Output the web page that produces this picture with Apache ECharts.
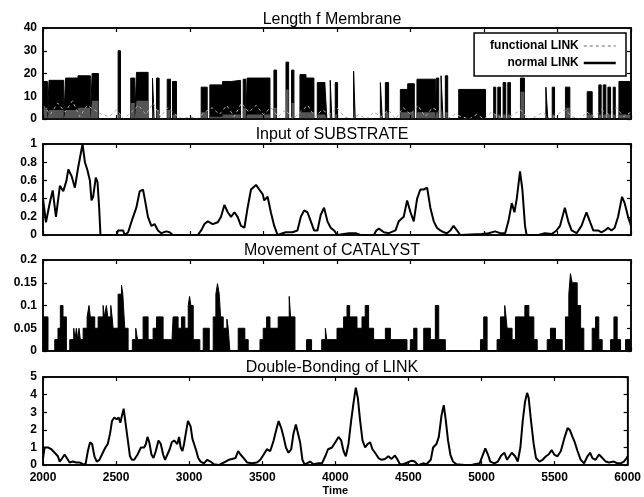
<!DOCTYPE html>
<html><head><meta charset="utf-8">
<script src="https://cdn.jsdelivr.net/npm/echarts@6/dist/echarts.min.js"></script>
<style>html,body{margin:0;padding:0;background:#fff}#c{width:644px;height:497px}</style>
</head><body><div id="c"></div>
<script>
// ---------------- data ----------------
const panelTitles = ['Length f Membrane', 'Input of SUBSTRATE', 'Movement of CATALYST', 'Double-Bonding of LINK'];
const yMaxes = [40, 1, 0.2, 5];
const yIntervals = [10, 0.2, 0.05, 1];
const timeMin = 2000, timeMax = 6000, timeInterval = 500;

// membrane: block start times, block top (normal LINK), block bottom
const memTimes = [2000,2030,2041,2141,2154,2238,2322,2334,2377,2511,2527,2597,2624,2636,2715,2745,2756,2772,2790,2845,2867,2881,2908,3076,3117,3135,3221,3283,3344,3362,3380,3389,3544,3571,3589,3653,3671,3691,3707,3748,3789,3843,3866,3918,3931,3954,3965,3988,4004,4113,4124,4295,4308,4329,4351,4431,4481,4526,4544,4669,4676,4692,4708,4721,4737,4753,4828,5010,5066,5080,5094,5112,5130,5148,5162,5180,5248,5275,5421,5434,5464,5480,5554,5584,5702,5736,5781,5797,5811,5829,5843,5861,5879,5893,5918,6000];
const memHigh = [16.5,0,17,0,18,19,0,20,0,30,0,18,0,20.5,0,18,0,18,0,17.5,0,16.5,0,14,0,15,16.5,17,0,17.5,0,18,0,21.5,0,25,0,21.5,0,19.5,18,0,16,15,0,17,0,16,0,21,0,16,0,16,0,13,15.5,0,17.5,0,18,0,19,0,19,0,13,0,14,0,14,0,16,0,16,0,18,0,14,0,14,0,14,0,12,0,15,0,15,0,14,0,14,0,16.5,16.5];
const memLow = [5,0,4,0,4,5,0,8,0,2,0,7,0,8,0,5,0,4,0,4,0,2,0,3,0,1,2,2,0,5,0,2,0,5,0,13,0,7,0,3,3,0,2,2,0,3,0,2,0,6,0,3,0,3,0,3,3,0,3,0,3,0,5,0,3,0,0,0,2,0,2,0,2,0,2,0,12,0,2,0,2,0,5,0,2,0,2,0,2,0,2,0,2,0,2,2];
// functional LINK, sampled every 50 time units from 2000
const funcValues = [6,2,7,3,8,1,6,4,2, 1,4,0,3,6,2,7,1,5,2,0, 1,0,3,5,2,6,1,7,3,6,2, 5,1,4,0,3,6,1,4,2,5, 1,0,2,0,3,1,4,0,5,2, 6,1,5,3,0,2,1,0,2,0, 3,1,0,2,4,0,1,3,0,2, 4,1,0,3,1,4,2,5,1,3];

const substrate = [[2000,0.4],[2020,0.14],[2047,0.36],[2066,0.49],[2088,0.2],[2115,0.54],[2138,0.48],[2160,0.6],[2172,0.72],[2194,0.65],[2217,0.52],[2240,0.75],[2269,1.0],[2285,0.8],[2301,0.72],[2319,0.6],[2330,0.38],[2341,0.42],[2359,0.63],[2371,0.58],[2382,0.3],[2391,0],[2500,0],[2511,0.05],[2545,0.05],[2556,0],[2579,0.03],[2613,0.2],[2635,0.3],[2658,0.48],[2680,0.5],[2692,0.4],[2714,0.2],[2737,0.1],[2759,0.12],[2782,0.05],[2805,0.02],[2839,0.04],[2861,0.03],[2884,0],[3053,0],[3076,0.05],[3098,0.12],[3121,0.15],[3155,0.12],[3189,0.14],[3211,0.2],[3234,0.33],[3257,0.25],[3279,0.2],[3302,0.25],[3324,0.2],[3347,0.1],[3370,0.08],[3392,0.3],[3415,0.5],[3449,0.55],[3471,0.5],[3494,0.45],[3505,0.38],[3528,0.42],[3550,0.25],[3573,0.1],[3596,0],[3630,0.02],[3652,0.03],[3697,0.03],[3731,0.05],[3754,0.2],[3776,0.27],[3799,0.25],[3822,0.15],[3844,0.05],[3867,0.05],[3889,0.22],[3912,0.3],[3935,0.15],[3957,0.08],[3980,0.05],[4002,0],[4081,0.02],[4127,0.02],[4160,0],[4251,0],[4267,0.05],[4285,0.07],[4319,0.03],[4353,0.02],[4398,0.05],[4420,0.15],[4454,0.2],[4477,0.38],[4500,0.25],[4522,0.15],[4545,0.4],[4567,0.5],[4590,0.5],[4613,0.52],[4635,0.3],[4658,0.15],[4680,0.08],[4703,0.05],[4726,0.03],[4748,0.02],[4771,0.05],[4793,0.1],[4816,0.05],[4839,0],[4985,0.01],[5031,0.02],[5076,0.04],[5110,0.02],[5144,0.02],[5166,0.15],[5189,0.35],[5207,0.25],[5223,0.4],[5245,0.7],[5261,0.5],[5279,0.1],[5290,0],[5370,0],[5415,0.02],[5460,0.01],[5494,0.05],[5517,0.1],[5550,0.3],[5573,0.15],[5596,0.05],[5630,0.02],[5663,0.1],[5697,0.25],[5720,0.15],[5743,0.05],[5776,0.05],[5799,0.03],[5822,0.05],[5844,0.08],[5867,0.05],[5889,0.08],[5912,0.2],[5939,0.42],[5957,0.35],[5980,0.2],[6000,0.1]];

const catalyst = [[2000,0.075],[2034,0],[2080,0.025],[2102,0.05],[2118,0.1],[2136,0.075],[2159,0],[2182,0.025],[2209,0.05],[2218,0.025],[2227,0.05],[2236,0.025],[2245,0.05],[2254,0.025],[2273,0.05],[2300,0.075],[2313,0.1],[2322,0.075],[2352,0.05],[2375,0.075],[2409,0.1],[2418,0.075],[2431,0.1],[2441,0.075],[2461,0.1],[2470,0.075],[2477,0.05],[2511,0.125],[2534,0.145],[2543,0.125],[2556,0.05],[2579,0],[2608,0.025],[2631,0.05],[2643,0.025],[2681,0.075],[2715,0.025],[2749,0.05],[2772,0.075],[2817,0.025],[2874,0],[2885,0.075],[2919,0.05],[2942,0.075],[2965,0.05],[2988,0.1],[2997,0.12],[3006,0.1],[3022,0.025],[3067,0],[3090,0.05],[3131,0],[3158,0.075],[3176,0.125],[3187,0.148],[3199,0.125],[3208,0.075],[3226,0.05],[3251,0.07],[3260,0.05],[3271,0],[3328,0.05],[3373,0.025],[3396,0],[3476,0.025],[3498,0.05],[3521,0.075],[3544,0.05],[3600,0.075],[3675,0.12],[3684,0.075],[3714,0],[3793,0.025],[3827,0],[3896,0.025],[3921,0.05],[3930,0.025],[4000,0.05],[4045,0.075],[4068,0.1],[4086,0.075],[4136,0.05],[4170,0.075],[4192,0.1],[4215,0.05],[4249,0.025],[4329,0.05],[4363,0.025],[4476,0],[4499,0.025],[4522,0.05],[4544,0],[4590,0.05],[4635,0.025],[4669,0.1],[4692,0.025],[4737,0],[4976,0.025],[4998,0.075],[5021,0],[5089,0.025],[5112,0.075],[5141,0.1],[5150,0.075],[5157,0.05],[5191,0.025],[5214,0.075],[5278,0.1],[5305,0.075],[5339,0.025],[5362,0],[5430,0.025],[5452,0.05],[5486,0.025],[5532,0],[5554,0.075],[5577,0.125],[5588,0.17],[5600,0.15],[5634,0.1],[5657,0.05],[5679,0],[5736,0.05],[5759,0.075],[5781,0.025],[5804,0],[5861,0.025],[5884,0.075],[5906,0.025],[5929,0],[5963,0.025],[5997,0.05],[6000,0.05]];

const doubleBonding = [[2000,0.35],[2011,1.0],[2034,1.0],[2057,0.9],[2080,0.7],[2102,0.5],[2114,0.2],[2132,0.4],[2148,0.6],[2159,0.5],[2182,0.15],[2204,0.2],[2227,0.15],[2250,0.15],[2273,0.05],[2291,0.05],[2307,0.8],[2322,1.3],[2336,1.2],[2352,0.5],[2368,0.2],[2386,0.3],[2409,0.7],[2427,1.0],[2443,1.2],[2459,1.8],[2472,2.5],[2488,2.7],[2504,2.6],[2518,2.7],[2529,2.4],[2540,2.8],[2552,3.2],[2563,2.5],[2579,1.5],[2595,0.5],[2608,0.3],[2624,0.3],[2647,0.6],[2670,1.0],[2692,1.0],[2704,1.2],[2715,1.6],[2727,1.3],[2742,0.6],[2756,0.4],[2772,0.8],[2790,1.4],[2806,1.2],[2822,0.6],[2835,0.3],[2851,0.6],[2867,0.9],[2881,1.3],[2897,1.4],[2908,1.5],[2919,1.2],[2931,1.6],[2942,1.0],[2954,0.8],[2965,1.2],[2981,2.0],[2992,2.5],[3010,2.2],[3022,1.5],[3033,1.4],[3049,0.8],[3062,0.4],[3078,0.2],[3101,0.1],[3124,0.3],[3146,0.2],[3169,0.05],[3203,0],[3226,0.1],[3249,0.2],[3271,0.3],[3294,0.35],[3317,0.4],[3335,0.8],[3351,0.6],[3373,0.4],[3396,0.15],[3430,0.1],[3464,0.15],[3487,0.3],[3510,0.6],[3532,0.9],[3555,0.8],[3578,1.4],[3596,2.0],[3612,2.5],[3630,2.1],[3646,1.6],[3662,1.0],[3680,0.7],[3698,0.9],[3714,1.8],[3730,2.3],[3743,2.3],[3759,1.3],[3775,0.3],[3789,0.05],[3805,0.1],[3827,0.2],[3850,0.05],[3884,0.1],[3909,0.1],[3931,0.5],[3950,0.9],[3977,1.0],[4000,1.3],[4022,1.6],[4040,1.4],[4056,0.8],[4072,0.5],[4090,1.2],[4108,2.5],[4124,3.5],[4140,4.4],[4154,3.8],[4170,2.5],[4186,1.4],[4204,1.0],[4222,1.2],[4238,1.3],[4254,0.9],[4272,0.7],[4295,0.4],[4317,0.3],[4340,0.35],[4363,0.5],[4385,0.35],[4408,0.55],[4426,0.3],[4442,0.05],[4465,0.05],[4494,0.15],[4522,0.25],[4544,0.2],[4567,0],[4601,0.1],[4624,0.05],[4653,0.3],[4669,1.0],[4692,1.2],[4708,1.6],[4726,2.8],[4742,3.4],[4755,2.6],[4771,1.4],[4787,0.6],[4805,0.2],[4828,0.05],[4885,0],[4930,0],[4987,0.1],[5010,0.6],[5026,0.95],[5044,0.6],[5060,0.2],[5089,0.1],[5112,0.2],[5135,0.55],[5157,0.7],[5175,0.3],[5191,0.5],[5207,0.7],[5230,0.5],[5248,0.2],[5266,1.0],[5282,2.5],[5298,3.6],[5312,4.1],[5323,3.8],[5339,2.5],[5357,1.2],[5373,0.4],[5396,0.2],[5418,0.3],[5441,0.5],[5459,0.6],[5480,0.85],[5498,0.6],[5520,0.5],[5543,0.8],[5566,1.5],[5589,2.1],[5604,2.0],[5623,1.6],[5638,1.3],[5657,0.8],[5679,0.3],[5702,0.1],[5725,0.5],[5743,0.7],[5759,0.4],[5781,0.3],[5804,0.6],[5827,0.4],[5850,0.2],[5872,0.15],[5906,0.2],[5929,0.1],[5952,0.1],[5974,0.2],[5993,0.4],[6000,0.5]];

// ---------------- chart ----------------
const FONT = 'Liberation Sans, Arial, Helvetica, sans-serif';
const gridTops = [28, 144, 260, 377];
const gridH = 91;
const titleTops = [12, 127, 243, 360];

const grids = gridTops.map(t => ({left: 43, right: 13, top: t, height: gridH, show: true, borderColor: '#000', borderWidth: 1.5, backgroundColor: 'transparent'}));

const xAxes = [], yAxes = [];
gridTops.forEach((t, i) => {
  ['bottom', 'top'].forEach(pos => {
    const isLabelled = pos === 'bottom' && i === 3;
    xAxes.push({
      type: 'value', gridIndex: i, position: pos, min: timeMin, max: timeMax, interval: timeInterval,
      axisLine: {show: true, onZero: false, lineStyle: {color: '#000', width: 1.5}},
      axisTick: {show: true, inside: true, length: 4, lineStyle: {color: '#000', width: 1.2}},
      axisLabel: {show: isLabelled, color: '#000', fontSize: 12, fontWeight: 'bold', fontFamily: FONT, margin: 7,
                  formatter: v => String(v)},
      splitLine: {show: false},
      name: isLabelled ? 'Time' : '', nameLocation: 'middle', nameGap: 19,
      nameTextStyle: {color: '#000', fontSize: 11, fontWeight: 'bold', fontFamily: FONT},
      z: 10
    });
  });
  ['left', 'right'].forEach(pos => {
    yAxes.push({
      type: 'value', gridIndex: i, position: pos, min: 0, max: yMaxes[i], interval: yIntervals[i],
      axisLine: {show: true, onZero: false, lineStyle: {color: '#000', width: 1.5}},
      axisTick: {show: true, inside: true, length: 4, lineStyle: {color: '#000', width: 1.2}},
      axisLabel: {show: pos === 'left', color: '#000', fontSize: 12, fontWeight: 'bold', fontFamily: FONT, margin: 6,
                  formatter: v => String(+v.toFixed(3))},
      splitLine: {show: false},
      z: 10
    });
  });
});

const memHighData = memTimes.map((t, k) => [t, memHigh[k]]);
const memLowData = memTimes.map((t, k) => [t, memLow[k]]);
const funcData = funcValues.map((v, k) => [timeMin + 50 * k, v]);

const series = [
  {name: 'normal LINK', type: 'line', xAxisIndex: 0, yAxisIndex: 0, step: 'end', data: memHighData,
   symbol: 'none', color: '#000', lineStyle: {color: '#000', width: 1}, areaStyle: {color: '#000', opacity: 1}, z: 2, silent: true},
  {name: 'lower', type: 'line', xAxisIndex: 0, yAxisIndex: 0, step: 'end', data: memLowData,
   symbol: 'none', color: '#555', lineStyle: {width: 0}, areaStyle: {color: '#555', opacity: 1}, z: 3, silent: true},
  {name: 'functional LINK', type: 'line', xAxisIndex: 0, yAxisIndex: 0, data: funcData,
   symbol: 'none', color: '#aaa', lineStyle: {color: '#aaa', width: 1, type: [3, 3]}, z: 4, silent: true},
  {name: 'substrate', type: 'line', xAxisIndex: 2, yAxisIndex: 2, data: substrate,
   symbol: 'none', lineStyle: {color: '#000', width: 2}, color: '#000', silent: true},
  {name: 'catalyst', type: 'line', xAxisIndex: 4, yAxisIndex: 4, step: 'end', data: catalyst,
   symbol: 'none', lineStyle: {color: '#000', width: 1}, areaStyle: {color: '#000', opacity: 1}, color: '#000', silent: true},
  {name: 'double', type: 'line', xAxisIndex: 6, yAxisIndex: 6, data: doubleBonding,
   symbol: 'none', lineStyle: {color: '#000', width: 2}, color: '#000', silent: true}
];

const chart = echarts.init(document.getElementById('c'), null, {renderer: 'canvas'});
chart.setOption({
  animation: false,
  backgroundColor: '#fff',
  title: panelTitles.map((txt, i) => ({
    text: txt, left: 332, top: titleTops[i], textAlign: 'center', padding: 0,
    textStyle: {color: '#000', fontSize: 16, fontWeight: 'normal', fontFamily: FONT}
  })),
  legend: {
    data: [
      {name: 'functional LINK', lineStyle: {color: '#999', width: 1.5, type: [3, 3]}, itemStyle: {opacity: 0}},
      {name: 'normal LINK', lineStyle: {color: '#000', width: 2.5}, itemStyle: {opacity: 0}}
    ],
    orient: 'vertical', right: 18, top: 33, align: 'right',
    itemWidth: 32, itemHeight: 10, itemGap: 5,
    padding: [7, 9, 7, 16],
    borderColor: '#000', borderWidth: 1.5, backgroundColor: '#fff',
    selectedMode: false,
    textStyle: {color: '#000', fontSize: 12, fontWeight: 'bold', fontFamily: FONT},
    z: 20
  },
  grid: grids,
  xAxis: xAxes,
  yAxis: yAxes,
  series: series
});
</script>
</body></html>
